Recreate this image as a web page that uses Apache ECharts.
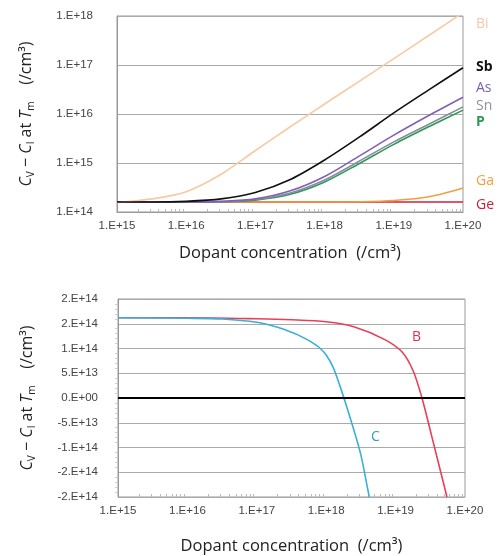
<!DOCTYPE html>
<html>
<head>
<meta charset="utf-8">
<script src="https://cdn.jsdelivr.net/npm/echarts@6/dist/echarts.min.js"></script>
<style>
  html, body { margin: 0; padding: 0; background: #fff; }
  #chart { width: 504px; height: 556px; }
</style>
</head>
<body>
<div id="chart"></div>
<script>
// top panel: C_V - C_I vs dopant, log-log
const xTop = [1e15, 3.2e15, 1e16, 3.2e16, 1e17, 3.2e17, 1e18, 3.2e18, 1e19, 3.2e19, 1e20]
const bi = [1.55e14, 1.85e14, 2.6e14, 5.9e14, 1.8e15, 5.5e15, 1.6e16, 4.7e16, 1.35e17, 4e17, 1.17e18]
const sb = [1.6e14, 1.6e14, 1.65e14, 1.85e14, 2.5e14, 4.6e14, 1.15e15, 3.4e15, 1.05e16, 3.1e16, 8.8e16]
const as = [1.6e14, 1.6e14, 1.6e14, 1.65e14, 1.85e14, 2.7e14, 5.3e14, 1.4e15, 3.7e15, 9.3e15, 2.2e16]
const sn = [1.6e14, 1.6e14, 1.6e14, 1.63e14, 1.8e14, 2.45e14, 4.5e14, 1.1e15, 2.7e15, 6.2e15, 1.4e16]
const p = [1.6e14, 1.6e14, 1.6e14, 1.62e14, 1.75e14, 2.3e14, 4.1e14, 9.8e14, 2.4e15, 5.5e15, 1.2e16]
const ga = [1.6e14, 1.6e14, 1.6e14, 1.6e14, 1.6e14, 1.6e14, 1.6e14, 1.62e14, 1.72e14, 2.05e14, 3.1e14]
const ge = [1.6e14, 1.6e14, 1.6e14, 1.6e14, 1.6e14, 1.6e14, 1.6e14, 1.6e14, 1.6e14, 1.6e14, 1.6e14]

// bottom panel: linear y
const xB = [1e15, 1e16, 1e17, 3.2e17, 1e18, 2.5e18, 7e18, 1.26e19, 1.8e19, 2.4e19, 3.3e19, 5.5e19]
const bVals = [1.62e14, 1.62e14, 1.6e14, 1.58e14, 1.54e14, 1.44e14, 1.18e14, 9.2e13, 5.4e13, 0, -7.6e13, -2e14]
const xC = [1e15, 1e16, 3.2e16, 1e17, 2e17, 3.16e17, 3.98e17, 5.01e17, 6.31e17, 7.94e17, 1e18, 1.26e18,
  1.58e18, 2e18, 2.51e18, 3.16e18, 3.98e18, 4.17e18]
const cVals = [1.62e14, 1.61e14, 1.595e14, 1.53e14, 1.43e14, 1.33e14, 1.27e14, 1.2e14, 1.12e14, 1.02e14, 8.7e13, 6.2e13,
  2.4e13, -2e13, -6.5e13, -1.15e14, -1.85e14, -2e14]

const font = 'Liberation Sans'
const titleFont = 'Open Sans'

function zip(xs, ys) {
  return xs.map((x, i) => [x, ys[i]])
}

// excel style "0.E+00"
function sci(v) {
  if (v === 0) return '0.E+00'
  const sign = v < 0 ? '-' : ''
  const a = Math.abs(v)
  let e = Math.floor(Math.log10(a) + 1e-9)
  let m = Math.round(+(a / Math.pow(10, e)).toFixed(6))
  if (m >= 10) { m = 1; e += 1 }
  const es = (e < 0 ? '-' : '+') + String(Math.abs(e)).padStart(2, '0')
  return sign + m + '.E' + es
}

const minorTicks = []
for (let d = 15; d < 20; d++) {
  for (let k = 2; k <= 9; k++) minorTicks.push(k * Math.pow(10, d))
}

const yName = '{i|C}{s|V}{n| − }{i|C}{s|I}{n| at }{i|T}{s|m}{n|    (/cm³)}'
const yNameStyle = {
  color: '#222',
  rich: {
    i: { fontStyle: 'italic', fontSize: 16, fontFamily: titleFont, lineHeight: 20, color: '#222' },
    n: { fontSize: 16, fontFamily: titleFont, lineHeight: 20, color: '#222' },
    s: { fontSize: 10, fontFamily: titleFont, verticalAlign: 'bottom', lineHeight: 10, color: '#222' }
  }
}

function mainX(grid, gap) {
  return {
    type: 'log',
    gridIndex: grid,
    min: 1e15,
    max: 1e20,
    logBase: 10,
    position: 'bottom',
    axisLine: { lineStyle: { color: '#999' } },
    axisTick: { show: false },
    splitLine: { show: false },
    axisLabel: { formatter: sci, color: '#444', fontSize: 11.5, fontFamily: font, margin: 8 },
    name: 'Dopant concentration  (/cm³)',
    nameLocation: 'middle',
    nameGap: gap,
    nameTextStyle: { fontSize: 16.5, fontFamily: titleFont, color: '#222' }
  }
}

function minorX(grid) {
  return {
    type: 'log',
    gridIndex: grid,
    min: 1e15,
    max: 1e20,
    logBase: 10,
    position: 'bottom',
    axisLine: { show: false },
    axisLabel: { show: false },
    splitLine: { show: false },
    axisTick: { show: true, inside: true, length: 3, customValues: minorTicks, lineStyle: { color: '#bbb' } }
  }
}

function line(name, xs, ys, color, xi, yi, z) {
  return {
    name: name,
    type: 'line',
    xAxisIndex: xi,
    yAxisIndex: yi,
    data: zip(xs, ys),
    showSymbol: false,
    smooth: 0.3,
    z: z,
    lineStyle: { color: color, width: 1.6 },
    itemStyle: { color: color }
  }
}

const sideLabel = (text, x, y, color, bold) => ({
  type: 'text',
  x: x,
  y: y,
  style: {
    text: text,
    fill: color,
    font: (bold ? 'bold ' : '') + '14px "Open Sans"',
    textAlign: 'left',
    textVerticalAlign: 'middle'
  }
})

const chart = echarts.init(document.getElementById('chart'))
chart.setOption({
  animation: false,
  backgroundColor: '#fff',
  grid: [
    { left: 117, top: 16, width: 346, height: 196, show: true, borderColor: '#999', borderWidth: 1 },
    { left: 118, top: 299, width: 347, height: 199, show: true, borderColor: '#999', borderWidth: 1 }
  ],
  xAxis: [mainX(0, 33), minorX(0), mainX(1, 41), minorX(1)],
  yAxis: [
    {
      type: 'log',
      gridIndex: 0,
      min: 1e14,
      max: 1e18,
      logBase: 10,
      axisLine: { show: true, lineStyle: { color: '#999' } },
      axisTick: { show: false },
      splitLine: { lineStyle: { color: '#aaa' } },
      axisLabel: { formatter: sci, color: '#444', fontSize: 11.5, fontFamily: font, margin: 24 },
      name: yName,
      nameLocation: 'middle',
      nameRotate: 90,
      nameGap: 81,
      nameTextStyle: yNameStyle
    },
    {
      type: 'value',
      gridIndex: 1,
      min: -2e14,
      max: 2e14,
      interval: 5e13,
      axisLine: { show: true, lineStyle: { color: '#999' } },
      axisTick: { show: false },
      minorTick: { show: true, splitNumber: 5, length: 3, lineStyle: { color: '#ccc' } },
      splitLine: { lineStyle: { color: '#aaa' } },
      axisLabel: { formatter: sci, color: '#444', fontSize: 11.5, fontFamily: font, margin: 20 },
      name: yName,
      nameLocation: 'middle',
      nameRotate: 90,
      nameGap: 81,
      nameTextStyle: yNameStyle
    }
  ],
  series: [
    line('Ge', xTop, ge, '#d0203c', 0, 0, 2),
    line('Ga', xTop, ga, '#f0a040', 0, 0, 3),
    line('P', xTop, p, '#2a9a55', 0, 0, 4),
    line('Sn', xTop, sn, '#8a8aa0', 0, 0, 5),
    line('As', xTop, as, '#8060b8', 0, 0, 6),
    line('Bi', xTop, bi, '#f8caa4', 0, 0, 7),
    line('Sb', xTop, sb, '#111111', 0, 0, 8),
    Object.assign(line('B', xB, bVals, '#e8405a', 2, 1, 3), {
      markLine: {
        silent: true,
        symbol: 'none',
        label: { show: false },
        lineStyle: { color: '#000', width: 2, type: 'solid' },
        data: [{ yAxis: 0 }]
      }
    }),
    line('C', xC, cVals, '#3ab0d8', 2, 1, 4)
  ],
  graphic: [
    sideLabel('Bi', 476, 24, '#f3c9a6', false),
    sideLabel('Sb', 476, 67, '#111', true),
    sideLabel('As', 476, 88, '#7a60b4', false),
    sideLabel('Sn', 476, 106, '#9090a0', false),
    sideLabel('P', 476, 122, '#2a9a55', true),
    sideLabel('Ga', 476, 181, '#f0a040', false),
    sideLabel('Ge', 476, 205, '#c8203c', false),
    sideLabel('B', 412, 337, '#e03050', false),
    sideLabel('C', 371, 437, '#30a0c8', false)
  ]
})
</script>
</body>
</html>
